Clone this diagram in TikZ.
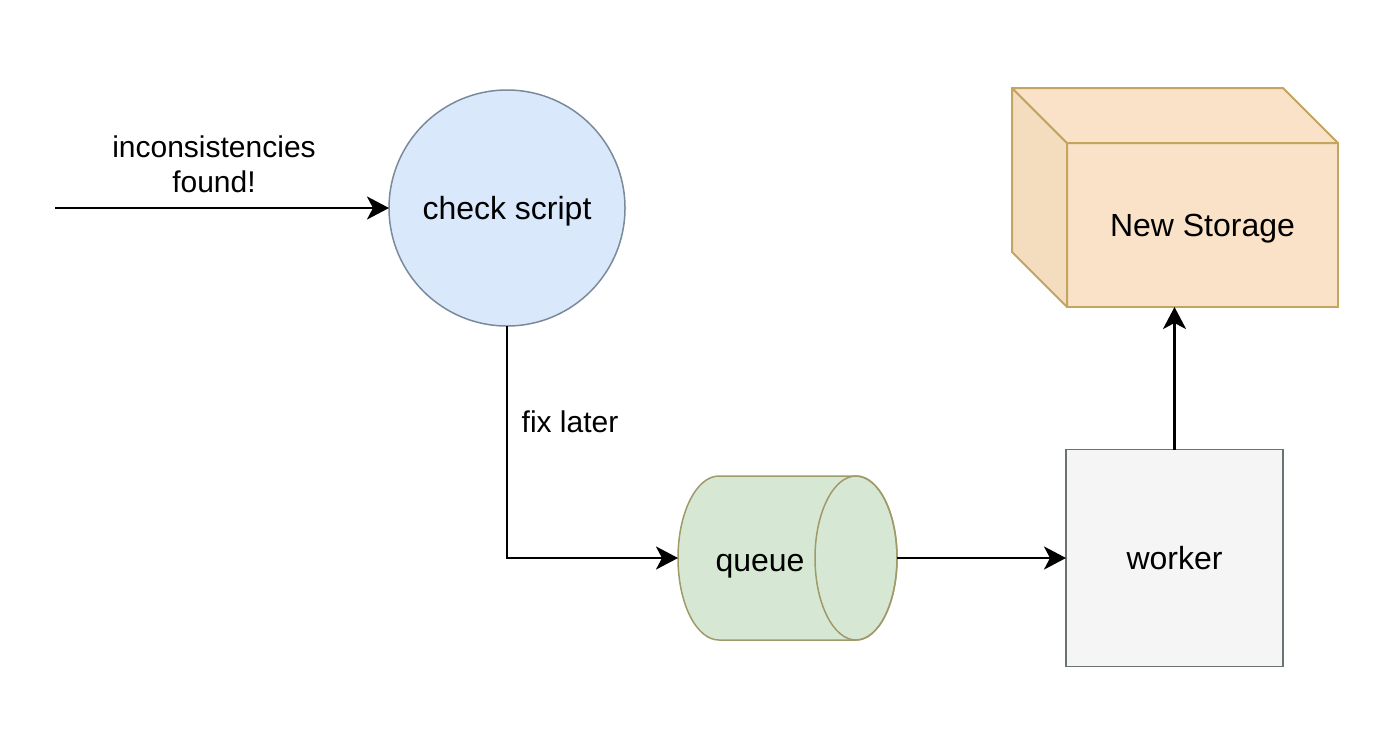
\documentclass[tikz,border=0pt]{standalone}
\usepackage{fontspec}
\setmainfont{Liberation Sans}
\usetikzlibrary{arrows.meta,positioning,calc,shapes.geometric}

\definecolor{checkfill}{HTML}{DAE8FC}
\definecolor{checkline}{HTML}{7B8A9B}
\definecolor{queuefill}{HTML}{D6E8D4}
\definecolor{queueline}{HTML}{A09A6A}
\definecolor{workerfill}{HTML}{F5F5F5}
\definecolor{workerline}{HTML}{6B7275}
\definecolor{storefill}{HTML}{F9E2C7}
\definecolor{storeside}{HTML}{F4DCBF}
\definecolor{storeline}{HTML}{C4A55F}

\begin{document}
\begin{tikzpicture}[
  x=0.5pt, y=-0.5pt,
  every node/.style={font=\fontsize{16}{17.5}\selectfont, outer sep=0pt, inner sep=0pt},
  arrow/.style={-{Stealth[length=11pt, width=11.5pt, inset=3pt]}, line width=1.3pt},
  proc/.style={circle, draw=checkline, fill=checkfill, line width=0.75pt,
               minimum size=118pt, text depth=0pt},
  buffer/.style={rectangle, minimum width=109.5pt, minimum height=82pt},
  box/.style={rectangle, draw=workerline, fill=workerfill, line width=0.75pt,
              minimum size=108.5pt, text depth=0pt},
  cubeface/.style={rectangle, draw=storeline, fill=storefill, line width=1pt,
                   minimum width=135.5pt, minimum height=82pt, text depth=0pt},
  cubeline/.style={draw=storeline, line width=1pt, line join=round},
  note/.style={align=center, font=\fontsize{15}{17.5}\selectfont}
]
\useasboundingbox (0,0) rectangle (1400,745);

% Source of the check
\coordinate (src) at (55,208);
\node[note] (found) at (214,164) {inconsistencies\\found!};
\node[proc] (check) at (507,208) {check script};

% Queue (cylinder drawn round an empty node) and worker
\node[buffer] (queue) at (787.5,558) {};
\draw[draw=queueline, fill=queuefill, line width=0.75pt]
  ($(queue.north west)+(41,0)$) -- ($(queue.north east)+(-41,0)$)
  arc[start angle=90, end angle=-90, x radius=20.5pt, y radius=41pt]
  -- ($(queue.south west)+(41,0)$)
  arc[start angle=270, end angle=90, x radius=20.5pt, y radius=41pt] -- cycle;
\draw[draw=queueline, line width=0.75pt]
  ($(queue.east)+(-41,0)$) ellipse[x radius=20.5pt, y radius=41pt];
\node[text depth=0pt] (queuetxt) at (760,563) {queue};
\node[box] (worker) at (1174.5,558) {worker};

% Storage cube
\node[cubeface] (storage) at (1202.5,225) {New Storage};
\draw[cubeline, fill=storeside] (storage.north west) -- ++(-55,-55)
  -- ($(storage.south west)+(-55,-55)$) -- (storage.south west) -- cycle;
\draw[cubeline, fill=storefill] (storage.north west) -- ++(-55,-55)
  -- ($(storage.north east)+(-55,-55)$) -- (storage.north east) -- cycle;

% Arrows
\draw[arrow] (src) -- (check);
\draw[arrow] (check.south) |- (queue.west);
\node[note] (later) at (570,422) {fix later};
\draw[arrow] (queue.east) -- (worker.west);
\draw[arrow] (worker.north) -- (worker.north |- storage.south);
\end{tikzpicture}
\end{document}
